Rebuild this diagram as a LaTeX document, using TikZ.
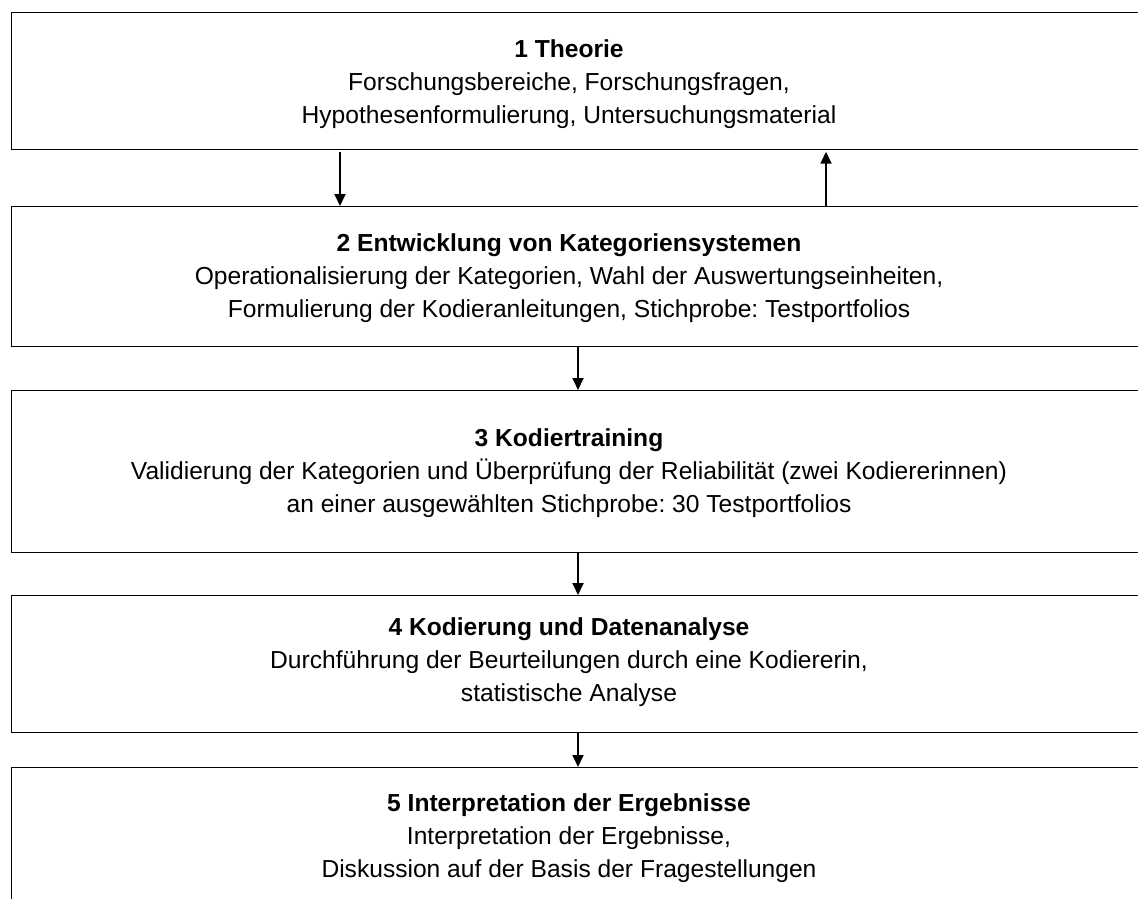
\documentclass[tikz,border=0pt]{standalone}
\usepackage{fontspec}
\setmainfont{Liberation Sans}
\usetikzlibrary{arrows.meta}
\frenchspacing
\begin{document}
\begin{tikzpicture}[x=1pt,y=-1pt,
  boxstyle/.style={draw=black,line width=1.2pt,rectangle,inner sep=0pt,anchor=north west},
  txt/.style={align=center,font=\fontsize{24.6}{33}\selectfont,inner sep=0pt},
  arr/.style={line width=1.8pt,-{Triangle[length=12pt,width=11pt]}}]
\useasboundingbox (0,0) rectangle (1138,899);
\node[boxstyle,minimum width=1150pt,minimum height=137pt] (b1) at (11,12) {};
\node[boxstyle,minimum width=1150pt,minimum height=140pt] (b2) at (11,206) {};
\node[boxstyle,minimum width=1150pt,minimum height=162pt] (b3) at (11,390) {};
\node[boxstyle,minimum width=1150pt,minimum height=137pt] (b4) at (11,595) {};
\node[boxstyle,minimum width=1150pt,minimum height=160pt] (b5) at (11,767) {};
\node[txt] (t1) at (569,84) {\textbf{1 Theorie}\\Forschungsbereiche, Forschungsfragen,\\Hypothesenformulierung, Untersuchungsmaterial};
\node[txt] (t2) at (569,278) {\textbf{2 Entwicklung von Kategoriensystemen}\\Operationalisierung der Kategorien, Wahl der Auswertungseinheiten,\\ Formulierung der Kodieranleitungen, Stichprobe: Testportfolios};
\node[txt] (t3) at (569,473) {\textbf{3 Kodiertraining}\\Validierung der Kategorien und Überprüfung der Reliabilität (zwei Kodiererinnen)\\an einer ausgewählten Stichprobe: 30 Testportfolios};
\node[txt] (t4) at (569,662) {\textbf{4 Kodierung und Datenanalyse}\\Durchführung der Beurteilungen durch eine Kodiererin,\\statistische Analyse};
\node[txt] (t5) at (569,838) {\textbf{5 Interpretation der Ergebnisse}\\Interpretation der Ergebnisse,\\Diskussion auf der Basis der Fragestellungen};
\coordinate (ca) at (340,0);
\coordinate (cb) at (826,0);
\coordinate (cc) at (578,0);
\draw[arr] (b1.south -| ca) ++(0,1.5) -- (b2.north -| ca);
\draw[arr] (b2.north -| cb) -- ([yshift=-1.5pt]b1.south -| cb);
\draw[arr] (b2.south -| cc) -- (b3.north -| cc);
\draw[arr] (b3.south -| cc) -- (b4.north -| cc);
\draw[arr] (b4.south -| cc) -- (b5.north -| cc);
\end{tikzpicture}
\end{document}
